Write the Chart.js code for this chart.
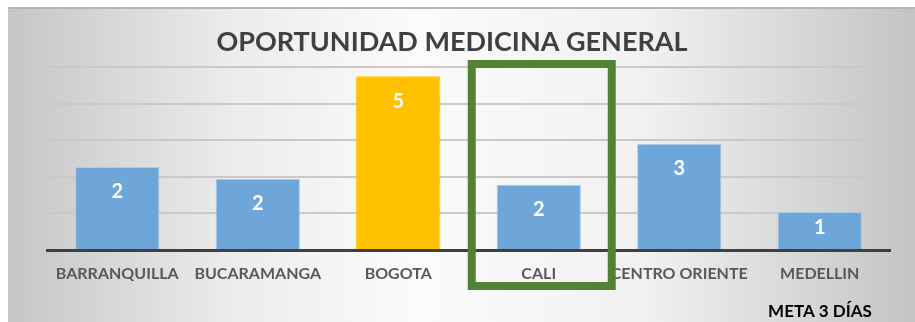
<!DOCTYPE html>
<html>
<head>
    <title>Oportunidad Medicina General</title>
    <script src="https://cdn.jsdelivr.net/npm/chart.js"></script>
    <style>
        html, body { margin: 0; padding: 0; background: #fff; }
        .wrap { width: 915px; height: 322px; position: relative; }
    </style>
</head>
<body>
    <div class="wrap">
        <canvas id="oportunidad" width="915" height="322"></canvas>
    </div>

    <script>
        // dias promedio de oportunidad por regional
        const regionales = ['BARRANQUILLA', 'BUCARAMANGA', 'BOGOTA', 'CALI', 'CENTRO ORIENTE', 'MEDELLIN'];
        const diasOportunidad = [2.27, 1.94, 4.75, 1.78, 2.9, 1.04];
        const yTicks = [0, 1, 2, 3, 4, 5];

        const titulo = 'OPORTUNIDAD MEDICINA GENERAL';
        const nota = 'META 3 DÍAS';
        const regionalDestacada = 'BOGOTA';
        const regionalRecuadro = 'CALI';

        const AZUL = '#6FA6D9';
        const AMARILLO = '#FFC000';
        const FONT = 'Lato, "Open Sans", sans-serif';

        // fondo con degradado gris en los bordes
        const fondo = {
            id: 'fondo',
            beforeDraw(chart) {
                const c = chart.ctx;
                const w = chart.width, h = chart.height;
                c.save();
                c.fillStyle = '#ffffff';
                c.fillRect(0, 0, w, h);
                const g = c.createLinearGradient(8, 0, w, 0);
                g.addColorStop(0, '#c6c6c6');
                g.addColorStop(0.25, '#ececec');
                g.addColorStop(0.45, '#fbfbfb');
                g.addColorStop(0.7, '#f1f1f1');
                g.addColorStop(1, '#c4c4c4');
                c.fillStyle = g;
                c.fillRect(8, 8, w - 8, h - 8);
                c.fillStyle = '#b4b4b4';
                c.fillRect(8, 7, w - 8, 2);
                c.restore();
            }
        };

        // titulo, etiquetas de valor, recuadro y nota
        const extras = {
            id: 'extras',
            afterDatasetsDraw(chart) {
                const c = chart.ctx;
                const meta = chart.getDatasetMeta(0);
                const base = chart.scales.y.getPixelForValue(0);
                c.save();
                c.fillStyle = '#ffffff';
                c.font = 'bold 20px ' + FONT;
                c.textAlign = 'center';
                c.textBaseline = 'middle';
                meta.data.forEach((bar, i) => {
                    const v = diasOportunidad[i];
                    const y = Math.min(bar.y + 25, (bar.y + base) / 2 - 3);
                    c.fillText(v.toFixed(0), bar.x, y);
                });
                c.restore();
            },
            afterDraw(chart) {
                const c = chart.ctx;
                const area = chart.chartArea;
                c.save();
                c.fillStyle = '#404040';
                c.font = 'bold 27px ' + FONT;
                c.textAlign = 'center';
                c.textBaseline = 'middle';
                c.fillText(titulo, 452, 42);

                const xs = chart.scales.x;
                const cx = xs.getPixelForValue(regionales.indexOf(regionalRecuadro));
                c.strokeStyle = '#548235';
                c.lineWidth = 8;
                c.strokeRect(cx - 67, area.top - 3, 140, 222);

                c.fillStyle = '#000000';
                c.font = 'bold 17px ' + FONT;
                c.fillText(nota, 820, 312);
                c.restore();
            }
        };

        new Chart(document.getElementById('oportunidad'), {
            type: 'bar',
            data: {
                labels: regionales,
                datasets: [{
                    data: diasOportunidad,
                    backgroundColor: regionales.map(r => r === regionalDestacada ? AMARILLO : AZUL),
                    borderColor: regionales.map(r => r === regionalDestacada ? AMARILLO : '#A9CCEC'),
                    borderWidth: 1,
                    categoryPercentage: 1,
                    barPercentage: 0.6
                }]
            },
            options: {
                responsive: false,
                animation: false,
                layout: { padding: { left: 47, right: 25, top: 67, bottom: 0 } },
                plugins: {
                    legend: { display: false },
                    tooltip: { enabled: false }
                },
                scales: {
                    x: {
                        grid: { display: false, drawTicks: false },
                        border: { color: '#3f3f3f', width: 3 },
                        ticks: {
                            color: '#595959',
                            font: { family: FONT, size: 16, weight: 'bold' },
                            padding: 14,
                            maxRotation: 0,
                            autoSkip: false
                        },
                        afterFit(scale) { scale.height = 72; }
                    },
                    y: {
                        min: 0,
                        max: 5,
                        afterBuildTicks(scale) { scale.ticks = yTicks.map(v => ({ value: v })); },
                        grid: { color: '#c9c9c9', lineWidth: 2, drawTicks: false },
                        border: { display: false },
                        ticks: { display: false },
                        afterFit(scale) { scale.width = 0; }
                    }
                }
            },
            plugins: [fondo, extras]
        });
    </script>
</body>
</html>
